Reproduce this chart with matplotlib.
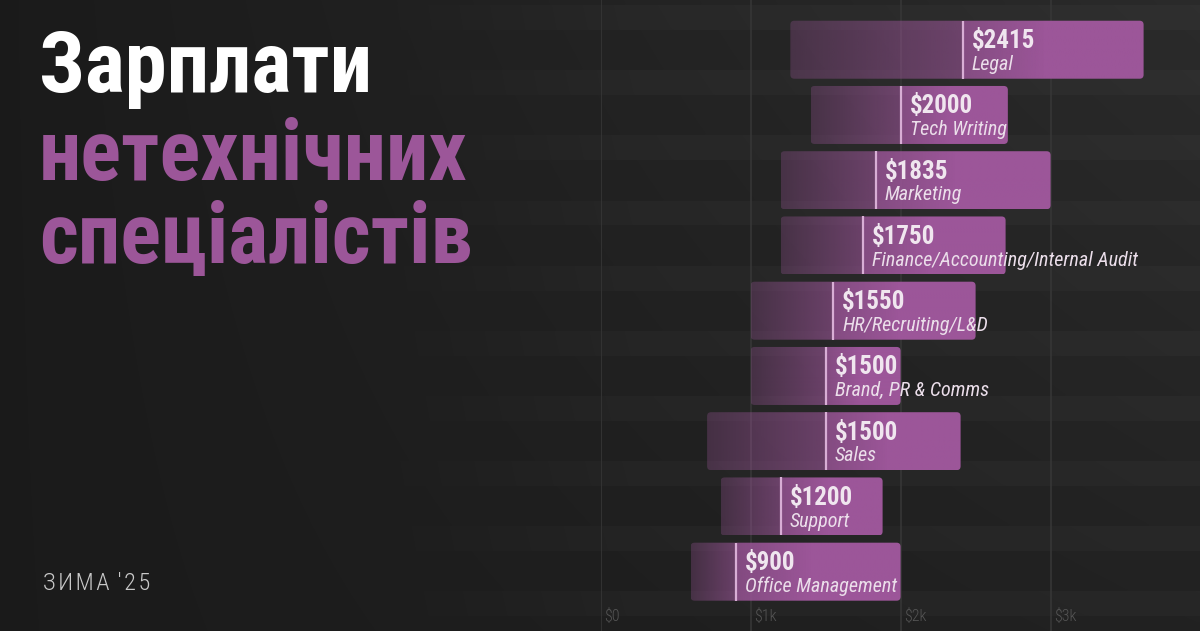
import numpy as np
import matplotlib.pyplot as plt
from matplotlib.patches import FancyBboxPatch
from matplotlib.colors import to_rgb
from matplotlib import transforms

# === Data ===
roles = ["Legal", "Tech Writing", "Marketing", "Finance/Accounting/Internal Audit",
         "HR/Recruiting/L&D", "Brand, PR & Comms", "Sales", "Support", "Office Management"]
median = [2415, 2000, 1835, 1750, 1550, 1500, 1500, 1200, 900]
low = [1265, 1400, 1200, 1200, 1000, 1000, 710, 800, 600]
high = [3620, 2715, 3000, 2700, 2500, 2000, 2400, 1880, 2000]
ticks = [0, 1000, 2000, 3000]
tick_labels = ["$0", "$1k", "$2k", "$3k"]

PURPLE = "#9c5699"
FONTS = ["Roboto Condensed", "Roboto", "DejaVu Sans"]
plt.rcParams["font.family"] = FONTS

W, H = 1200, 631
fig = plt.figure(figsize=(W / 100, H / 100), dpi=100)
fig.patch.set_facecolor("#1d1d1d")

# row geometry (row index units, inverted)
y_top, y_bot = -0.762, 8.909
x0_px = 600.6
xmax = (W - x0_px) / 0.15

# === Background: gradient + soft stripes between rows ===
bg = fig.add_axes([0, 0, 1, 1])
bg.set_xlim(0, 1)
bg.set_ylim(y_bot, y_top)
bg.axis("off")
gx = np.linspace(0, 1, 400)
gy = np.linspace(y_top, y_bot, 631)
X, Y = np.meshgrid(gx, gy)
yfrac = (Y - np.floor(Y))
stripe = (np.abs(yfrac - 0.5) < 0.19).astype(float)
fade = np.clip((X - 0.33) / 0.2, 0, 1)
ynorm = (Y - y_top) / (y_bot - y_top)
v = 0.105 + 0.062 * X * (1 - 0.55 * ynorm) + 0.018 * stripe * fade
img = np.dstack([v, v, v])
bg.imshow(img, extent=(0, 1, y_bot, y_top), aspect="auto", interpolation="bilinear")

# === Main axes ===
ax = fig.add_axes([x0_px / W, 0, 1 - x0_px / W, 1])
ax.patch.set_visible(False)
ax.axis("off")

for t, lab in zip(ticks, tick_labels):
    ax.axvline(t, color="#363636", lw=1.2, zorder=1)
    ax.annotate(lab, xy=(t, 0.024),
                xycoords=transforms.blended_transform_factory(ax.transData, ax.transAxes),
                xytext=(2.5, 0), textcoords="offset points",
                ha="left", va="center", color="#555555", fontsize=11.5, fontweight="light")

rgb = np.array(to_rgb(PURPLE))
bar_h = 0.889
px_x = 1 / 0.15   # data units per pixel
px_y = 1 / 65.25
for i, (r, m, lo, hi) in enumerate(zip(roles, median, low, high)):
    patch = FancyBboxPatch((lo, i - bar_h / 2), hi - lo, bar_h,
                           boxstyle=f"round,pad=0,rounding_size={4 * px_x}",
                           mutation_aspect=px_y / px_x,
                           facecolor="none", edgecolor="none", zorder=2)
    ax.add_patch(patch)
    n = 300
    xs = np.linspace(lo, hi, n)
    alpha = np.where(xs < m,
                     0.30 + 0.30 * (xs - lo) / max(m - lo, 1),
                     np.clip(0.80 + 0.20 * (xs - m) / (0.45 * (hi - m)), 0, 1))
    grad = np.zeros((1, n, 4))
    grad[0, :, :3] = rgb
    grad[0, :, 3] = alpha
    im = ax.imshow(grad, extent=(lo, hi, i + bar_h / 2, i - bar_h / 2),
                   aspect="auto", interpolation="bilinear", zorder=3)
    im.set_clip_path(patch)
    ax.plot([m, m], [i - bar_h / 2, i + bar_h / 2], color="#d8aed5", lw=1.6,
            solid_capstyle="butt", zorder=4)
    ax.annotate(f"${m}", xy=(m, i), xytext=(6.5, 1.2), textcoords="offset points",
                ha="left", va="baseline", color="#f0e6ef", fontsize=18,
                fontweight="bold", zorder=5)
    ax.annotate(r, xy=(m, i), xytext=(6.5, -14.5), textcoords="offset points",
                ha="left", va="baseline", color="#ebdeea", fontsize=14.5,
                fontstyle="italic", zorder=5)

ax.set_xlim(0, xmax)
ax.set_ylim(y_bot, y_top)

# === Title ===
fig.text(39 / W, 1 - 91.7 / H, "Зарплати", color="white", fontsize=61,
         fontweight="bold", va="baseline", ha="left")
fig.text(39 / W, 1 - 180 / H, "нетехнічних", color=PURPLE, fontsize=61,
         fontweight="bold", va="baseline", ha="left")
fig.text(39 / W, 1 - 263 / H, "спеціалістів", color=PURPLE, fontsize=61,
         fontweight="bold", va="baseline", ha="left")
fig.text(43 / W, 1 - 590 / H, "З\u200aИ\u200aМ\u200aА \u200a'\u200a2\u200a5",
         color="#c9c9c9", fontsize=17.5, fontweight="light", va="baseline", ha="left")

fig.savefig("out.png", dpi=100, facecolor=fig.get_facecolor())
